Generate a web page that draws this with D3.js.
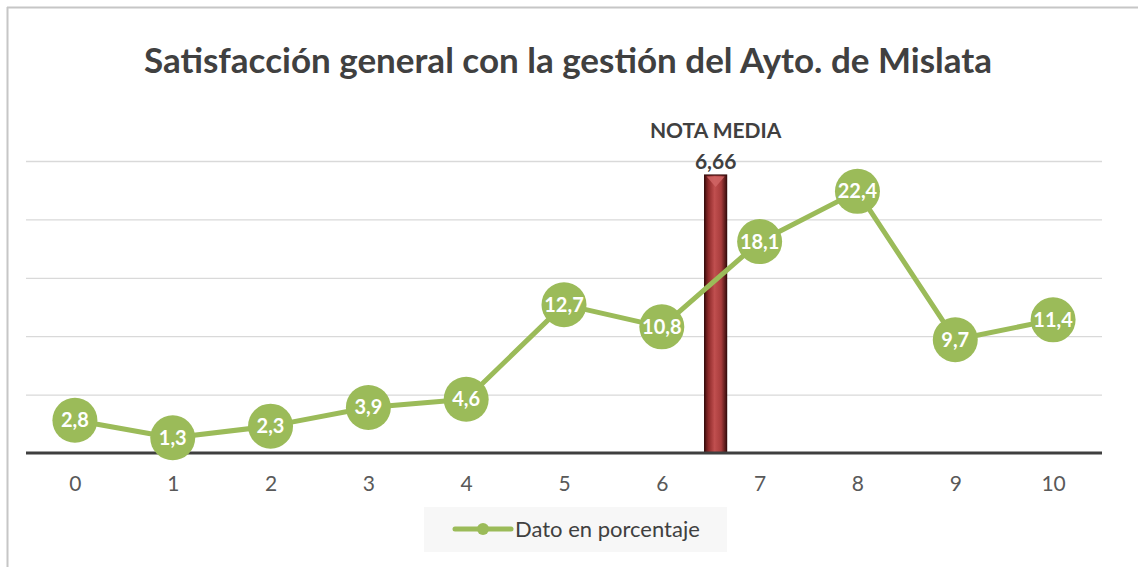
<!DOCTYPE html>
<html>
<head>
<meta charset="utf-8">
<script src="https://cdn.jsdelivr.net/npm/d3@7"></script>
<style>
  body { margin: 0; background: #fff; }
  text { font-family: Lato, "Open Sans", sans-serif; }
</style>
</head>
<body>
<div id="chart"></div>
<script>
// Datos del gráfico
const notas = ["0", "1", "2", "3", "4", "5", "6", "7", "8", "9", "10"];
const porcentajes = [2.8, 1.3, 2.3, 3.9, 4.6, 12.7, 10.8, 18.1, 22.4, 9.7, 11.4];
const etiquetas = ["2,8", "1,3", "2,3", "3,9", "4,6", "12,7", "10,8", "18,1", "22,4", "9,7", "11,4"];
const gridTicks = [0, 5, 10, 15, 20, 25];
const notaMedia = 6.66;
const notaMediaTexto = "6,66";
const barraPos = 6.55;     // posición aproximada de la barra sobre el eje
const barraAltura = 23.8;  // altura aproximada de la barra

const W = 1138, H = 567;
const margin = { top: 161, right: 36, bottom: 114, left: 26 };
const width = W - margin.left - margin.right;
const height = H - margin.top - margin.bottom;

const svg = d3.select("#chart").append("svg")
    .attr("width", W)
    .attr("height", H);

// Marco del gráfico (solo arriba e izquierda visibles)
svg.append("line").attr("x1", 7).attr("x2", W).attr("y1", 7.5).attr("y2", 7.5)
    .attr("stroke", "#c6c6c6").attr("stroke-width", 2);
svg.append("line").attr("x1", 7.5).attr("x2", 7.5).attr("y1", 7).attr("y2", H)
    .attr("stroke", "#c6c6c6").attr("stroke-width", 2);

// Título
svg.append("text")
    .attr("x", 568).attr("y", 73)
    .attr("text-anchor", "middle")
    .attr("font-size", 35)
    .attr("font-weight", "bold")
    .attr("fill", "#404040")
    .text("Satisfacción general con la gestión del Ayto. de Mislata");

const g = svg.append("g").attr("transform", `translate(${margin.left},${margin.top})`);

const x = d3.scalePoint()
    .domain(notas)
    .range([0, width])
    .padding(0.5);

const xLin = d3.scaleLinear()
    .domain([0, notas.length - 1])
    .range([x(notas[0]), x(notas[notas.length - 1])]);

const y = d3.scaleLinear()
    .domain([0, 25])
    .range([height, 0]);

// Líneas de cuadrícula
g.append("g")
    .call(d3.axisLeft(y).tickValues(gridTicks.slice(1)).tickSize(-width).tickFormat(""))
    .call(s => s.select(".domain").remove())
    .call(s => s.selectAll("line").attr("stroke", "#d9d9d9").attr("stroke-width", 1.3));

// Eje X
const xAxis = g.append("g")
    .attr("transform", `translate(0,${height})`)
    .call(d3.axisBottom(x).tickSize(0).tickPadding(23));
xAxis.select(".domain").remove();
xAxis.selectAll("text")
    .attr("font-size", 21)
    .attr("fill", "#595959")
    .style("font-family", "Lato, 'Open Sans', sans-serif");

// Barra de la nota media
const defs = svg.append("defs");
const grad = defs.append("linearGradient").attr("id", "gradBarra")
    .attr("x1", "0%").attr("x2", "100%").attr("y1", "0%").attr("y2", "0%");
grad.append("stop").attr("offset", "0%").attr("stop-color", "#4a1111");
grad.append("stop").attr("offset", "18%").attr("stop-color", "#8e2a2a");
grad.append("stop").attr("offset", "45%").attr("stop-color", "#c04f4f");
grad.append("stop").attr("offset", "75%").attr("stop-color", "#a83c3c");
grad.append("stop").attr("offset", "100%").attr("stop-color", "#3d0e0e");

const barW = 22;
const bx = xLin(barraPos);
g.append("rect")
    .attr("x", bx - barW / 2)
    .attr("y", y(barraAltura))
    .attr("width", barW)
    .attr("height", y(0) - y(barraAltura))
    .attr("fill", "url(#gradBarra)")
    .attr("stroke", "#3a0d0d")
    .attr("stroke-width", 1.2);
// bisel superior
g.append("path")
    .attr("d", `M${bx - barW / 2 + 2},${y(barraAltura) + 1.5} L${bx + barW / 2 - 2},${y(barraAltura) + 1.5} L${bx},${y(barraAltura) + 12} Z`)
    .attr("fill", "#d06565").attr("opacity", 0.85);

g.append("text")
    .attr("x", bx).attr("y", y(barraAltura) - 37)
    .attr("text-anchor", "middle")
    .attr("font-size", 21).attr("font-weight", "bold")
    .attr("fill", "#404040")
    .text("NOTA MEDIA");
g.append("text")
    .attr("x", bx).attr("y", y(barraAltura) - 6)
    .attr("text-anchor", "middle")
    .attr("font-size", 21).attr("font-weight", "bold")
    .attr("fill", "#404040")
    .text(notaMediaTexto);

// Línea base
g.append("line")
    .attr("x1", 0).attr("x2", width)
    .attr("y1", y(0)).attr("y2", y(0))
    .attr("stroke", "#3f3f3f").attr("stroke-width", 3);

// Serie
const datos = notas.map((n, i) => ({ nota: n, valor: porcentajes[i], etiqueta: etiquetas[i] }));

const line = d3.line()
    .x(d => x(d.nota))
    .y(d => y(d.valor));

g.append("path")
    .datum(datos)
    .attr("d", line)
    .attr("fill", "none")
    .attr("stroke", "#9bbb59")
    .attr("stroke-width", 5)
    .attr("stroke-linejoin", "round");

g.selectAll("circle.punto")
    .data(datos)
    .enter()
    .append("circle")
    .attr("class", "punto")
    .attr("cx", d => x(d.nota))
    .attr("cy", d => y(d.valor))
    .attr("r", 22.5)
    .attr("fill", "#9bbb59");

g.selectAll("text.etiqueta")
    .data(datos)
    .enter()
    .append("text")
    .attr("class", "etiqueta")
    .attr("x", d => x(d.nota))
    .attr("y", d => y(d.valor) + 7)
    .attr("text-anchor", "middle")
    .attr("font-size", 20)
    .attr("font-weight", "bold")
    .attr("fill", "#fff")
    .text(d => d.etiqueta);

// Leyenda
const leg = svg.append("g").attr("transform", "translate(424,507)");
leg.append("rect")
    .attr("width", 303).attr("height", 45)
    .attr("fill", "#f7f7f7");
leg.append("line")
    .attr("x1", 31).attr("x2", 87).attr("y1", 22).attr("y2", 22)
    .attr("stroke", "#9bbb59").attr("stroke-width", 5).attr("stroke-linecap", "round");
leg.append("circle")
    .attr("cx", 59).attr("cy", 22).attr("r", 6)
    .attr("fill", "#9bbb59");
leg.append("text")
    .attr("x", 91).attr("y", 30)
    .attr("font-size", 22)
    .attr("fill", "#404040")
    .text("Dato en porcentaje");
</script>
</body>
</html>
